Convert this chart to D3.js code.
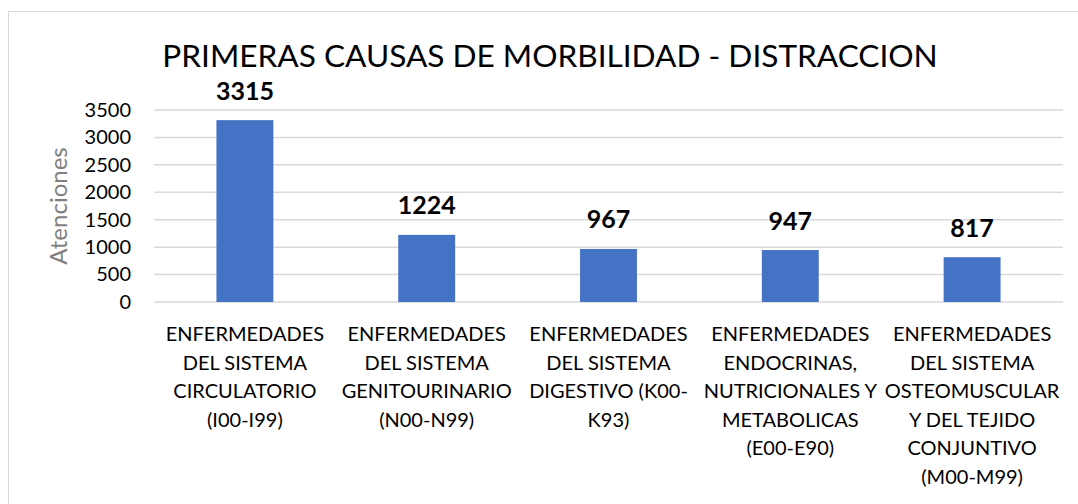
<!DOCTYPE html>
<html>
<head>
<meta charset="utf-8">
<script src="https://cdn.jsdelivr.net/npm/d3@7"></script>
<style>
  body { margin: 0; background: #fff; }
  text { font-family: Lato, "Open Sans", sans-serif; }
</style>
</head>
<body>
<div id="chart"></div>
<script>
// data
const categories = [
  "ENFERMEDADES DEL SISTEMA CIRCULATORIO (I00-I99)",
  "ENFERMEDADES DEL SISTEMA GENITOURINARIO (N00-N99)",
  "ENFERMEDADES DEL SISTEMA DIGESTIVO (K00-K93)",
  "ENFERMEDADES ENDOCRINAS, NUTRICIONALES Y METABOLICAS (E00-E90)",
  "ENFERMEDADES DEL SISTEMA OSTEOMUSCULAR Y DEL TEJIDO CONJUNTIVO (M00-M99)"
];
// category labels as they wrap in the picture
const categoryLines = [
  ["ENFERMEDADES", "DEL SISTEMA", "CIRCULATORIO", "(I00-I99)"],
  ["ENFERMEDADES", "DEL SISTEMA", "GENITOURINARIO", "(N00-N99)"],
  ["ENFERMEDADES", "DEL SISTEMA", "DIGESTIVO (K00-", "K93)"],
  ["ENFERMEDADES", "ENDOCRINAS,", "NUTRICIONALES Y", "METABOLICAS", "(E00-E90)"],
  ["ENFERMEDADES", "DEL SISTEMA", "OSTEOMUSCULAR", "Y DEL TEJIDO", "CONJUNTIVO", "(M00-M99)"]
];
const atenciones = [3315, 1224, 967, 947, 817];
const yTicks = [0, 500, 1000, 1500, 2000, 2500, 3000, 3500];

const title = "PRIMERAS CAUSAS DE MORBILIDAD - DISTRACCION";
const yTitle = "Atenciones";

const W = 1078, H = 504;
const plot = { left: 154, right: 1063, top: 110, bottom: 302 };

const svg = d3.select("#chart").append("svg")
  .attr("width", W)
  .attr("height", H);

// chart area border (only left and top show in the crop)
svg.append("rect")
  .attr("x", 8.5).attr("y", 11.5)
  .attr("width", 1200).attr("height", 800)
  .attr("fill", "#fff")
  .attr("stroke", "#d9d9d9")
  .attr("stroke-width", 1);

const x = d3.scaleBand()
  .domain(categories)
  .range([plot.left, plot.right])
  .paddingInner(0.687)
  .paddingOuter(0.3435);

const y = d3.scaleLinear()
  .domain([0, 3500])
  .range([plot.bottom, plot.top]);

// gridlines
svg.append("g")
  .selectAll("line")
  .data(yTicks)
  .join("line")
  .attr("x1", plot.left).attr("x2", plot.right)
  .attr("y1", d => y(d)).attr("y2", d => y(d))
  .attr("stroke", "#d9d9d9")
  .attr("stroke-width", 1.5);

// y axis labels
const yAxis = svg.append("g")
  .attr("transform", "translate(" + (plot.left - 10) + ",0)")
  .call(d3.axisLeft(y).tickValues(yTicks).tickSize(0).tickPadding(13).tickFormat(d3.format("d")));
yAxis.select(".domain").remove();
yAxis.selectAll("text")
  .attr("font-size", 20)
  .attr("fill", "#000")
  .style("font-family", "Lato, sans-serif");

// y axis title
svg.append("text")
  .attr("transform", "translate(67,206) rotate(-90)")
  .attr("text-anchor", "middle")
  .attr("font-size", 24)
  .attr("fill", "#7f7f7f")
  .text(yTitle);

// bars
svg.append("g")
  .selectAll("rect")
  .data(atenciones)
  .join("rect")
  .attr("x", (d, i) => x(categories[i]))
  .attr("y", d => y(d))
  .attr("width", x.bandwidth())
  .attr("height", d => y(0) - y(d))
  .attr("fill", "#4472c4");

// value labels
svg.append("g")
  .selectAll("text")
  .data(atenciones)
  .join("text")
  .attr("x", (d, i) => x(categories[i]) + x.bandwidth() / 2)
  .attr("y", d => y(d) - 20.5)
  .attr("text-anchor", "middle")
  .attr("font-size", 25)
  .attr("font-weight", "bold")
  .attr("fill", "#000")
  .text(d => d);

// category labels
const catG = svg.append("g")
  .selectAll("text")
  .data(categoryLines)
  .join("text")
  .attr("text-anchor", "middle")
  .attr("font-size", 20)
  .attr("fill", "#000");
catG.selectAll("tspan")
  .data((d, i) => d.map(t => ({ t: t, i: i })))
  .join("tspan")
  .attr("x", d => x(categories[d.i]) + x.bandwidth() / 2)
  .attr("y", (d, j) => 341 + j * 28.5)
  .text(d => d.t);

// title
svg.append("text")
  .attr("x", 550)
  .attr("y", 67)
  .attr("text-anchor", "middle")
  .attr("font-size", 31.6)
  .attr("fill", "#000")
  .text(title);
</script>
</body>
</html>
